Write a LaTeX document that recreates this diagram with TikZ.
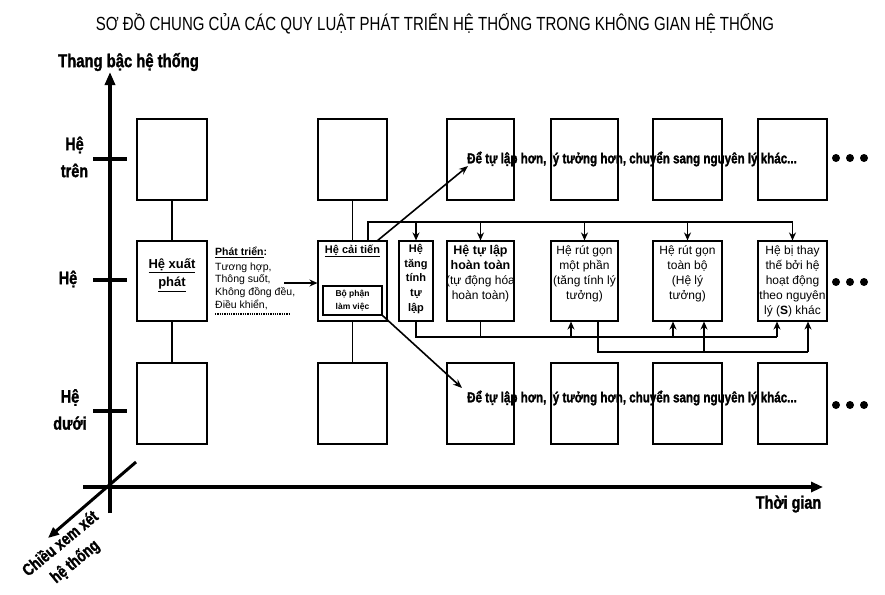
\documentclass[tikz,border=0pt]{standalone}
\usepackage{fontspec}
\setmainfont{Liberation Sans}
\newfontfamily\cond[FakeStretch=0.8,BoldFeatures={FakeBold=1.5}]{Liberation Sans}
\newfontfamily\titlefont[FakeStretch=0.79]{Liberation Sans}
\usetikzlibrary{arrows.meta}
\begin{document}
\begin{tikzpicture}[x=1pt,y=-1pt,
  sbox/.style={draw, line width=1.1pt, inner sep=0pt},
  conn/.style={line width=1.1pt},
  arr/.style={line width=1.5pt, -{Stealth[length=8pt,width=7pt]}},
  darr/.style={line width=1.6pt, -{Stealth[length=9pt,width=7pt]}},
  axisline/.style={line width=4pt},
  lab/.style={font=\cond\bfseries\fontsize{18}{27}\selectfont, align=center, inner sep=0pt},
  btxt/.style={font=\fontsize{12}{15}\selectfont, align=center, inner sep=0pt},
  dotc/.style={fill=black}
]
\useasboundingbox (0,0) rectangle (885,594);

% title
\node[font=\titlefont\fontsize{19}{22}\selectfont, inner sep=0pt] (title) at (435,24)
  {SƠ ĐỒ CHUNG CỦA CÁC QUY LUẬT PHÁT TRIỂN HỆ THỐNG TRONG KHÔNG GIAN HỆ THỐNG};

% axes
\draw[axisline, -{Triangle[length=13pt,width=10pt]}] (110,513) -- (110,72);
\draw[axisline, -{Triangle[length=12pt,width=10pt]}] (83,487) -- (823,487);
\draw[line width=3pt, -{Triangle[length=11pt,width=9pt]}] (136,462) -- (48,538);
\draw[axisline] (93,159) -- (127,159);
\draw[axisline] (93,280) -- (127,280);
\draw[axisline] (93,411) -- (127,411);

% axis labels
\node[lab, font=\cond\bfseries\fontsize{18.5}{27}\selectfont] (ly) at (128.5,62) {Thang bậc hệ thống};
\node[lab] (lt) at (74.5,157) {Hệ\\trên};
\node[lab] (lm) at (68,279) {Hệ};
\node[lab] (lb) at (70,409.5) {Hệ\\dưới};
\node[lab] (lx) at (788.5,504) {Thời gian};
\node[lab, font=\cond\bfseries\fontsize{17}{23}\selectfont, rotate=39.5] (lz) at (68,553) {Chiều xem xét\\hệ thống};

% top row
\node[sbox, minimum width=70pt, minimum height=81pt] (t1) at (172,159.5) {};
\node[sbox, minimum width=69pt, minimum height=81pt] (t2) at (352.5,159.5) {};
\node[sbox, minimum width=67pt, minimum height=81pt] (t3) at (480.5,159.5) {};
\node[sbox, minimum width=67pt, minimum height=81pt] (t4) at (584.5,159.5) {};
\node[sbox, minimum width=69pt, minimum height=81pt] (t5) at (687.5,159.5) {};
\node[sbox, minimum width=69pt, minimum height=81pt] (t6) at (792.5,159.5) {};

% bottom row
\node[sbox, minimum width=70pt, minimum height=81pt] (b1) at (172,403.5) {};
\node[sbox, minimum width=69pt, minimum height=81pt] (b2) at (352.5,403.5) {};
\node[sbox, minimum width=67pt, minimum height=81pt] (b3) at (480.5,403.5) {};
\node[sbox, minimum width=67pt, minimum height=81pt] (b4) at (584.5,403.5) {};
\node[sbox, minimum width=69pt, minimum height=81pt] (b5) at (687.5,403.5) {};
\node[sbox, minimum width=69pt, minimum height=81pt] (b6) at (792.5,403.5) {};

% middle row
\node[sbox, minimum width=70pt, minimum height=80pt] (m1) at (172,281) {};
\node[sbox, minimum width=69pt, minimum height=80pt] (m2) at (352.5,281) {};
\node[sbox, minimum width=34pt, minimum height=80pt] (mt) at (416,281) {};
\node[sbox, minimum width=67pt, minimum height=80pt] (m3) at (480.5,281) {};
\node[sbox, minimum width=67pt, minimum height=80pt] (m4) at (584.5,281) {};
\node[sbox, minimum width=69pt, minimum height=80pt] (m5) at (687.5,281) {};
\node[sbox, minimum width=69pt, minimum height=80pt] (m6) at (792.5,281) {};
\node[sbox, minimum width=59pt, minimum height=29pt] (in2) at (352.5,300.5) {};

% texts in middle row
\node[btxt, font=\bfseries\fontsize{13}{18}\selectfont] (x1) at (172,275) {\underline{Hệ xuất}\\\underline{phát}};
\node[btxt, font=\bfseries\fontsize{11}{13}\selectfont] (x2) at (352.5,251) {\underline{Hệ cải tiến}};
\node[btxt, font=\bfseries\fontsize{8.5}{13}\selectfont] (x2b) at (352.5,300.5) {Bộ phận\\làm việc};
\node[btxt, font=\bfseries\fontsize{11}{14.7}\selectfont] (xt) at (416,279) {Hệ\\tăng\\tính\\tự\\lập};
\node[btxt] (x3) at (480.5,273.5) {\textbf{\fontsize{12.5}{15}\selectfont Hệ tự lập}\\\textbf{\fontsize{12.5}{15}\selectfont hoàn toàn}\\(tự động hóa\\hoàn toàn)};
\node[btxt] (x4) at (584.5,273.5) {Hệ rút gọn\\một phần\\(tăng tính lý\\tưởng)};
\node[btxt] (x5) at (687.5,273.5) {Hệ rút gọn\\toàn bộ\\(Hệ lý\\tưởng)};
\node[btxt] (x6) at (792.5,281) {Hệ bị thay\\thế bởi hệ\\hoạt động\\theo nguyên\\lý (\textbf{S}) khác};

% development text
\node[anchor=north west, align=left, inner sep=0pt, font=\fontsize{10.5}{12.9}\selectfont] (dev) at (215,247)
  {\textbf{\underline{Phát triển}:}\\[1.5pt]Tương hợp,\\Thông suốt,\\Không đồng đều,\\Điều khiển,};
\draw[line width=1.3pt, densely dotted] (215,314) -- (290,314);
\coordinate (a0) at (284,283);
\draw[arr] (a0) -- (a0 -| m2.west);

% vertical links between rows
\draw[conn] (t1.south) -- (m1.north);
\draw[conn] (m1.south) -- (b1.north);
\draw[conn] (t2.south) -- (m2.north);
\draw[conn] (m2.south) -- (b2.north);

% top bus
\coordinate (bt) at (368,222);
\draw[conn] (bt |- m2.north) -- (bt) -- (m6.north |- bt);
\draw[arr] (mt.north |- bt) -- (mt.north);
\draw[arr] (m3.north |- bt) -- (m3.north);
\draw[arr] (m4.north |- bt) -- (m4.north);
\draw[arr] (m5.north |- bt) -- (m5.north);
\draw[arr] (m6.north |- bt) -- (m6.north);

% lower buses
\coordinate (u4) at (571,337);
\coordinate (u5) at (673,337);
\coordinate (u6) at (777,337);
\coordinate (v4) at (598,352);
\coordinate (v5) at (704,352);
\coordinate (v6) at (808,352);
\draw[conn] (mt.south) |- (u6);
\draw[conn] (m3.south) -- (m3.south |- u4);
\draw[arr] (u4) -- (u4 |- m4.south);
\draw[arr] (u5) -- (u5 |- m5.south);
\draw[arr] (u6) -- (u6 |- m6.south);
\draw[conn] (v4 |- m4.south) |- (v6);
\draw[arr] (v5) -- (v5 |- m5.south);
\draw[arr] (v6) -- (v6 |- m6.south);

% diagonal arrows
\coordinate (dA) at (377,241);
\coordinate (dB) at (468,166);
\coordinate (dC) at (462,388);
\draw[darr] (dA) -- (dB);
\draw[darr] (in2.south east) -- (dC);

% long labels
\node[anchor=west, inner sep=0pt, font=\cond\bfseries\fontsize{14.5}{16}\selectfont] (ltop) at (467,159) {Để tự lập hơn, lý tưởng hơn, chuyển sang nguyên lý khác...};
\node[anchor=west, inner sep=0pt, font=\cond\bfseries\fontsize{14.5}{16}\selectfont] (lbot) at (467,398) {Để tự lập hơn, lý tưởng hơn, chuyển sang nguyên lý khác...};

% dots
\foreach \yy in {158,282,405}{
  \fill[dotc] (836,\yy) circle (4pt);
  \fill[dotc] (850,\yy) circle (4pt);
  \fill[dotc] (864,\yy) circle (4pt);
}
\end{tikzpicture}
\end{document}
